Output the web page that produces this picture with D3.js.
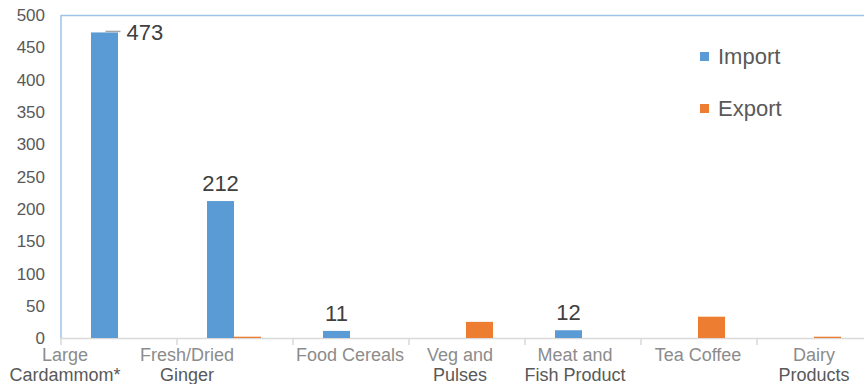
<!DOCTYPE html>
<html>
<head>
<meta charset="utf-8">
<script src="https://cdn.jsdelivr.net/npm/d3@7"></script>
<style>
  body { margin: 0; background: #fff; }
  svg { display: block; font-family: "Liberation Sans", Arial, sans-serif; }
</style>
</head>
<body>
<svg width="864" height="384"></svg>
<script>
// data
var categories = ["Large Cardammom*", "Fresh/Dried Ginger", "Food Cereals", "Veg and Pulses", "Meat and Fish Product", "Tea Coffee", "Dairy Products"];
var labelLines = [["Large", "Cardammom*"], ["Fresh/Dried", "Ginger"], ["Food Cereals", ""], ["Veg and", "Pulses"], ["Meat and", "Fish Product"], ["Tea Coffee", ""], ["Dairy", "Products"]];
var importVals = [473, 212, 11, 0, 12, 0, 0];
var exportVals = [0, 2, 0, 25, 0, 33, 2];
var yTicks = [0, 50, 100, 150, 200, 250, 300, 350, 400, 450, 500];
var series = ["Import", "Export"];
var colors = ["#5b9bd5", "#ed7d31"];

var svg = d3.select("svg");
var plotLeft = 60, plotTop = 15, plotBottom = 338, band = 116;
var barW = 27;

var x = d3.scaleBand().domain(categories).range([plotLeft, plotLeft + band * categories.length]).padding(0);
var y = d3.scaleLinear().domain([0, 500]).range([plotBottom, plotTop]);

// frame
svg.append("line").attr("x1", plotLeft + 1).attr("x2", 864).attr("y1", plotTop + 0.5).attr("y2", plotTop + 0.5)
  .attr("stroke", "#9dc3e6").attr("stroke-width", 1.5);
svg.append("line").attr("x1", plotLeft + 1).attr("x2", plotLeft + 1).attr("y1", plotTop).attr("y2", plotBottom)
  .attr("stroke", "#9dc3e6").attr("stroke-width", 1.5);

// y axis labels
svg.selectAll(".ytick").data(yTicks).enter().append("text")
  .attr("x", 45).attr("y", function(d) { return y(d); })
  .attr("dy", "0.36em").attr("text-anchor", "end")
  .attr("font-size", 17).attr("fill", "#595959")
  .text(function(d) { return d; });

// x axis
var xAxis = svg.append("g").attr("transform", "translate(0," + plotBottom + ")")
  .call(d3.axisBottom(x).tickSize(0).tickFormat(""));
xAxis.select(".domain").attr("stroke", "#d9d9d9").attr("stroke-width", 1.5);
var bounds = categories.map(function(c) { return x(c); });
svg.selectAll(".xt").data(bounds).enter().append("line")
  .attr("x1", function(d) { return d + 1; }).attr("x2", function(d) { return d + 1; })
  .attr("y1", plotBottom).attr("y2", plotBottom + 7)
  .attr("stroke", "#d9d9d9").attr("stroke-width", 1.5);

// bars
var g = svg.append("g");
g.selectAll(".imp").data(importVals).enter().append("rect")
  .attr("x", function(d, i) { return x(categories[i]) + x.bandwidth() / 2 - barW; })
  .attr("y", function(d) { return y(d); })
  .attr("width", barW)
  .attr("height", function(d) { return plotBottom - y(d); })
  .attr("fill", colors[0]);
g.selectAll(".exp").data(exportVals).enter().append("rect")
  .attr("x", function(d, i) { return x(categories[i]) + x.bandwidth() / 2; })
  .attr("y", function(d) { return y(d); })
  .attr("width", barW)
  .attr("height", function(d) { return plotBottom - y(d); })
  .attr("fill", colors[1]);

// data labels for import
importVals.forEach(function(d, i) {
  if (d <= 0) return;
  var cx = x(categories[i]) + x.bandwidth() / 2 - barW / 2;
  if (i === 0) {
    svg.append("line").attr("x1", cx + 1).attr("x2", cx + 16)
      .attr("y1", y(d) - 1).attr("y2", y(d) - 1)
      .attr("stroke", "#a6a6a6").attr("stroke-width", 1.5);
    svg.append("text").attr("x", cx + 22).attr("y", y(d) + 8)
      .attr("font-size", 22).attr("fill", "#404040").text(d);
  } else {
    svg.append("text").attr("x", cx).attr("y", y(d) - 10)
      .attr("text-anchor", "middle")
      .attr("font-size", 22).attr("fill", "#404040").text(d);
  }
});

// x labels
var shift = [-53, -47, 0, -6, -7, 0, 0];
var xl = svg.selectAll(".xl").data(labelLines).enter().append("text")
  .attr("text-anchor", "middle").attr("font-size", 18).attr("fill", "#595959");
xl.append("tspan")
  .attr("x", function(d, i) { return x(categories[i]) + x.bandwidth() / 2 + shift[i]; })
  .attr("y", 361).attr("fill", "#8c8c8c")
  .text(function(d) { return d[0]; });
xl.append("tspan")
  .attr("x", function(d, i) { return x(categories[i]) + x.bandwidth() / 2 + shift[i]; })
  .attr("y", 381)
  .text(function(d) { return d[1]; });

// legend
var lg = svg.selectAll(".lg").data(series).enter().append("g")
  .attr("transform", function(d, i) { return "translate(700," + (56 + i * 52) + ")"; });
lg.append("rect").attr("x", 0).attr("y", -4).attr("width", 9).attr("height", 9)
  .attr("fill", function(d, i) { return colors[i]; });
lg.append("text").attr("x", 18).attr("y", 0).attr("dy", "0.36em")
  .attr("font-size", 22).attr("fill", "#595959").text(function(d) { return d; });
</script>
</body>
</html>
